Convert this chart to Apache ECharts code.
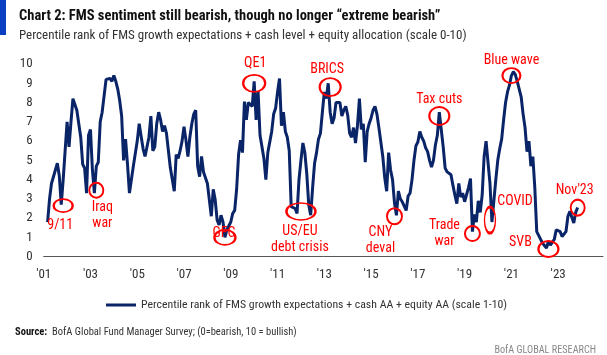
<!DOCTYPE html>
<html>
<head>
<meta charset="utf-8">
<script src="https://cdn.jsdelivr.net/npm/echarts@6/dist/echarts.min.js"></script>
<style>
html,body{margin:0;padding:0;background:#fff;}
#chart{width:607px;height:355px;}
</style>
</head>
<body>
<div id="chart"></div>
<script>
// ---------------- DATA ----------------
const titleText = "Chart 2: FMS sentiment still bearish, though no longer \u201Cextreme bearish\u201D";
const subtitleText = "Percentile rank of FMS growth expectations + cash level + equity allocation (scale 0-10)";
const seriesName = "Percentile rank of FMS growth expectations + cash AA + equity AA (scale 1-10)";
const sourceLabel = "Source:";
const sourceText = "BofA Global Fund Manager Survey; (0=bearish, 10 = bullish)";
const footerText = "BofA GLOBAL RESEARCH";

const firstYear = 2001;
const lastYear = 2024;
const tickLabels = ["'01","'03","'05","'07","'09","'11","'13","'15","'17","'19","'21","'23"];
const yTicks = [0,1,2,3,4,5,6,7,8,9,10];

// monthly values, Jan..Dec (2001 starts in March)
const s2001_2004 = [
  null,null,1.8,3.0,3.8,4.15,4.2,4.85,4.2,2.7,4.0,5.5,
  7.0,5.7,7.0,8.2,8.3,7.6,7.5,6.2,4.8,4.6,3.3,6.3,
  6.6,4.5,3.3,4.7,4.9,7.0,7.5,7.5,9.2,9.1,9.25,9.1,
  9.4,9.1,8.7,8.1,7.3,5.0,6.1,4.8,3.3,4.0,4.7,4.75
];
const s2005_2008 = [
  6.0,6.9,7.0,5.6,5.2,5.1,6.2,7.3,5.5,5.7,6.9,7.5,
  7.1,6.5,6.8,6.4,5.5,4.6,4.0,3.4,5.3,5.1,5.5,6.0,
  6.75,6.05,5.2,6.2,6.9,7.4,7.6,4.7,4.15,5.2,4.4,4.1,
  3.8,2.95,2.1,3.5,2.95,1.9,1.65,2.15,1.8,1.0,1.4,1.3
];
const s2009_2012 = [
  1.8,2.25,2.4,3.5,5.3,6.05,5.4,8.05,7.1,8.0,8.05,7.8,
  9.1,7.1,8.6,6.3,5.7,5.1,4.0,5.4,5.4,6.5,7.4,7.7,
  8.55,9.25,6.8,7.5,6.5,6.2,5.5,2.6,2.5,2.5,2.25,4.0,
  5.0,5.9,5.4,4.3,2.7,2.15,3.6,4.85,5.4,6.1,6.4,7.5
];
const s2013_2016 = [
  8.55,8.2,9.0,7.5,6.9,7.2,8.0,7.95,8.0,7.3,7.6,7.8,
  7.35,6.4,6.2,6.7,5.9,6.8,8.2,6.6,6.9,4.9,6.5,6.9,
  7.2,7.6,7.8,7.4,6.7,5.95,5.2,4.1,3.4,5.4,4.5,4.0,
  2.8,2.15,3.4,3.0,2.85,2.75,2.4,3.15,3.3,4.0,5.0,5.75
];
const s2017_2020 = [
  5.95,6.5,6.2,6.0,5.65,5.45,5.0,4.65,5.0,5.8,6.3,7.5,
  6.6,5.7,4.6,4.4,4.5,4.25,3.7,3.2,2.75,3.8,3.1,3.3,
  2.85,2.75,3.6,4.05,1.3,2.2,1.8,2.9,2.3,3.2,5.2,6.0,
  6.05,3.8,1.8,2.9,4.0,5.0,5.6,6.1,7.1,8.0,8.55,8.9
];
const s2021_2023 = [
  9.4,9.6,9.45,9.1,9.0,8.3,7.4,6.7,5.45,6.0,4.7,5.2,
  3.6,1.3,1.4,0.9,0.7,0.7,0.45,0.8,0.6,0.5,0.9,1.4,
  1.5,1.3,1.05,0.95,1.3,2.1,2.35,2.35,1.75,2.3,2.55
];

// annotations: text, month anchor, value anchor
const annoTexts  = ["9/11","Iraq\nwar","GFC","QE1","US/EU\ndebt crisis","BRICS","CNY\ndeval","Tax cuts","Trade\nwar","COVID","Blue wave","SVB","Nov'23"];
const annoMonths = ["2001-11","2003-04","2008-10","2010-01","2012-01","2013-04","2016-01","2017-12","2019-05","2020-02","2021-01","2022-08","2023-11"];
const annoValues = [2.65,3.45,1.0,9.0,2.35,8.8,2.1,7.3,1.2,1.9,9.4,0.4,2.55];

// ---------------- LAYOUT / STYLE ----------------
const annoLayout = [
  {size:[19,13], off:[-3,20]},
  {size:[14,15], off:[6,25]},
  {size:[21,15], off:[-1,-4]},
  {size:[22,17], off:[1,-20]},
  {size:[29,17], off:[-1,28]},
  {size:[21,18], off:[-3,-18]},
  {size:[15,16], off:[-14,24]},
  {size:[20,18], off:[0,-17]},
  {size:[15,15], off:[-28,0]},
  {size:[11,26], off:[25,-19]},
  {size:[18,15], off:[0,-15]},
  {size:[20,16], off:[-28,-6]},
  {size:[14,16], off:[-3,-17]}
];
const FONT = "'Liberation Sans Narrow','Roboto Condensed','Liberation Sans',sans-serif";
const NAVY = '#0a2468';
const RED = '#ff0000';
const ELLIPSE = 'path://M0,50C0,22 22,0 50,0C78,0 100,22 100,50C100,78 78,100 50,100C22,100 0,78 0,50Z';

// ---------------- BUILD ----------------
const months = [];
for (let y = firstYear; y <= lastYear; y++) {
  for (let m = 1; m <= 12; m++) months.push(y + '-' + (m < 10 ? '0' + m : m));
}
const values = [].concat(s2001_2004, s2005_2008, s2009_2012, s2013_2016, s2017_2020, s2021_2023);

const markData = annoTexts.map((t, i) => ({
  coord: [annoMonths[i], annoValues[i]],
  symbol: ELLIPSE,
  symbolSize: annoLayout[i].size,
  itemStyle: {color: 'rgba(0,0,0,0)', borderColor: RED, borderWidth: 2},
  label: {
    show: true, formatter: t, color: RED, fontFamily: FONT, fontSize: 14,
    lineHeight: 16, align: 'center', verticalAlign: 'middle',
    offset: annoLayout[i].off
  }
}));

const chart = echarts.init(document.getElementById('chart'), null, {renderer: 'canvas'});
chart.setOption({
  animation: false,
  backgroundColor: '#fff',
  textStyle: {fontFamily: FONT},
  title: {
    text: titleText,
    subtext: subtitleText,
    left: 14, top: 4, itemGap: 5,
    textStyle: {fontFamily: FONT, fontSize: 14.5, fontWeight: 'bold', color: '#111'},
    subtextStyle: {fontFamily: FONT, fontSize: 13, color: '#333'}
  },
  grid: {left: 43.7, right: 4, top: 64, bottom: 355 - 256.7, containLabel: false},
  legend: {
    data: [seriesName], left: 101, top: 294,
    icon: 'rect', itemWidth: 30, itemHeight: 3,
    textStyle: {fontFamily: FONT, fontSize: 11.8, color: '#333'}
  },
  xAxis: {
    type: 'category', data: months, boundaryGap: false,
    axisLine: {lineStyle: {color: '#555', width: 1}},
    axisTick: {show: false},
    axisLabel: {
      interval: (idx) => idx % 24 === 0,
      formatter: (v, idx) => tickLabels[Math.floor(idx / 24)] || '',
      color: '#333', fontFamily: FONT, fontSize: 13, margin: 12
    },
    splitLine: {show: false}
  },
  yAxis: {
    type: 'value', min: yTicks[0], max: yTicks[yTicks.length - 1], interval: 1,
    axisLine: {show: false}, axisTick: {show: false}, splitLine: {show: false},
    axisLabel: {color: '#333', fontFamily: FONT, fontSize: 13, margin: 11,
      showMaxLabel: true, showMinLabel: true, hideOverlap: false}
  },
  series: [{
    name: seriesName, type: 'line', data: values,
    showSymbol: false, symbol: 'none',
    lineStyle: {color: NAVY, width: 3},
    itemStyle: {color: NAVY},
    markPoint: {data: markData, silent: true}
  }],
  graphic: [
    {type: 'rect', left: 0, top: 0, shape: {width: 6, height: 35}, style: {fill: '#0b3fc2'}},
    {type: 'text', left: 15, top: 327, style: {
      text: '{b|' + sourceLabel + '}  ' + sourceText,
      rich: {b: {fontWeight: 'bold', fontFamily: FONT, fontSize: 10.5, fill: '#111'}},
      fontFamily: FONT, fontSize: 10.5, fill: '#333'}},
    {type: 'text', right: 11, top: 345, style: {
      text: footerText, fontFamily: FONT, fontSize: 10.2, fill: '#888'}}
  ]
});
</script>
</body>
</html>
